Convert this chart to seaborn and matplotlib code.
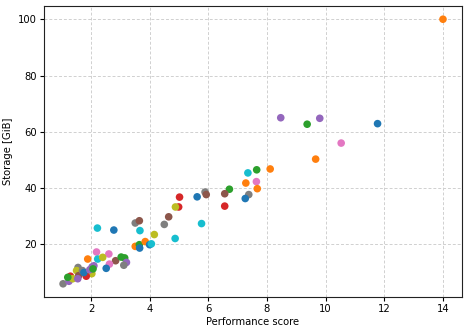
import matplotlib
matplotlib.use("Agg")
import matplotlib.pyplot as plt
import seaborn as sns
import pandas as pd

# performance score vs storage, one colour per config (tab10 cycle)
perf = [14.0, 11.77, 9.80, 9.37, 10.53, 9.66, 8.47, 8.11, 7.65, 7.35,
        7.28, 7.64, 7.67, 7.38, 7.26, 6.72, 6.56, 6.56, 5.89, 5.93,
        5.62, 5.77, 5.02, 4.99, 4.88, 4.65, 4.50, 4.16, 4.87, 3.51,
        3.65, 3.67, 3.51, 3.65, 3.85, 4.00, 4.06, 3.66, 2.22, 2.78,
        2.19, 2.61, 2.23, 2.40, 2.84, 3.03, 3.15, 3.21, 3.12, 2.63,
        2.52, 1.89, 2.10, 2.04, 2.03, 1.84, 1.56, 1.51, 1.58, 1.30,
        1.05, 1.25, 1.38, 1.55, 1.71, 1.76, 1.96, 1.21, 2.07]
storage = [100.0, 62.9, 64.8, 62.7, 56.0, 50.3, 65.0, 46.8, 46.5, 45.4,
           41.8, 42.3, 39.8, 37.7, 36.3, 39.6, 38.0, 33.6, 38.6, 37.7,
           36.9, 27.4, 36.8, 33.3, 33.3, 29.8, 27.1, 23.5, 22.1, 27.6,
           28.4, 24.9, 19.3, 19.9, 21.0, 19.9, 20.2, 18.7, 25.8, 25.1,
           17.3, 16.6, 14.8, 15.4, 14.2, 15.5, 15.2, 13.6, 12.6, 13.0,
           11.5, 14.8, 12.4, 12.0, 9.6, 8.7, 11.8, 10.7, 8.9, 8.7,
           6.0, 6.9, 7.8, 7.8, 10.7, 10.0, 11.0, 8.3, 11.3]
color_idx = [1, 0, 4, 2, 6, 1, 4, 1, 2, 9,
             1, 6, 1, 7, 0, 2, 5, 3, 7, 5,
             0, 9, 3, 3, 8, 5, 7, 8, 9, 7,
             5, 9, 1, 2, 1, 0, 9, 0, 9, 0,
             6, 6, 9, 8, 5, 2, 2, 4, 7, 6,
             0, 1, 4, 4, 8, 3, 7, 8, 5, 3,
             7, 4, 8, 4, 7, 0, 4, 2, 2]

df = pd.DataFrame({"perf": perf, "storage": storage, "c": color_idx})
palette = dict(enumerate(sns.color_palette("tab10", 10)))

fig, ax = plt.subplots(figsize=(4.69, 3.33), dpi=100)
sns.scatterplot(data=df, x="perf", y="storage", hue="c", palette=palette,
                s=30, linewidth=0, legend=False, ax=ax, zorder=3)

ax.grid(True, linestyle=(0, (3, 2)), color="#d0d0d0", linewidth=0.7)
ax.set_axisbelow(True)
ax.set_xticks([2, 4, 6, 8, 10, 12, 14])
ax.set_yticks([20, 40, 60, 80, 100])
ax.tick_params(labelsize=7.2, length=2.6, pad=2.4)
ax.set_xlabel("Performance score", fontsize=7.2, labelpad=2.5)
ax.set_ylabel("Storage [GiB]", fontsize=7.2, labelpad=3.5)
for sp in ax.spines.values():
    sp.set_color("#222222")

plt.subplots_adjust(left=0.094, right=0.985, top=0.982, bottom=0.108)
plt.savefig("out.png", dpi=100)
